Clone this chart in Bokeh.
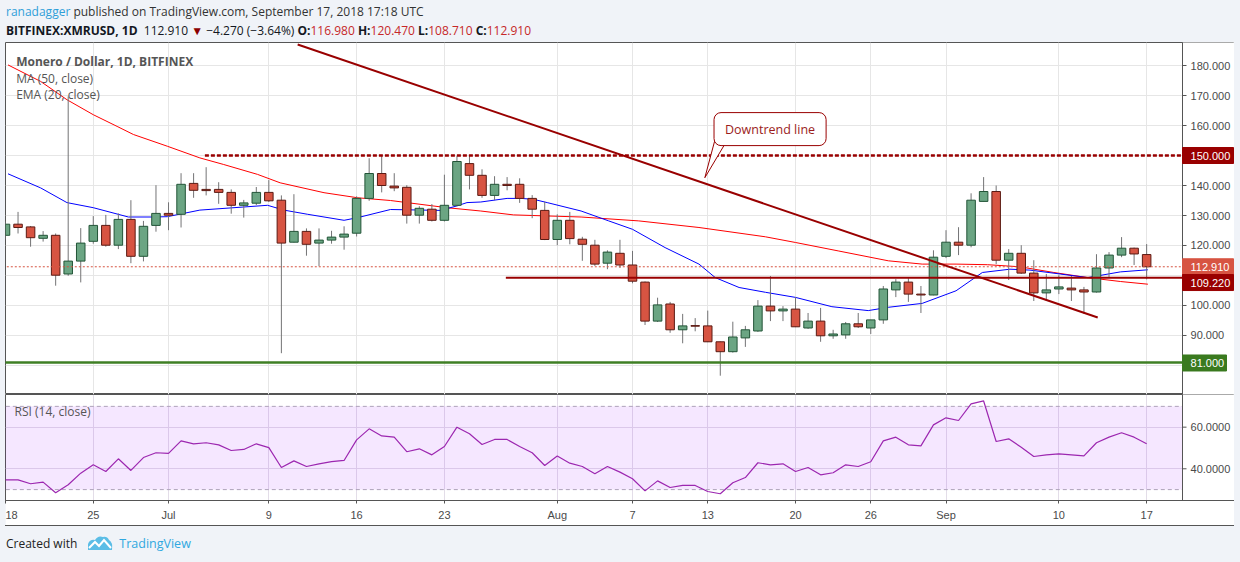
from bokeh.plotting import figure
from bokeh.models import (Range1d, FixedTicker, Label, Div, BoxAnnotation, ColumnDataSource)
from bokeh.core.properties import value
from bokeh.layouts import column
from bokeh.embed import file_html
from bokeh.resources import INLINE

# ---------------- data ----------------
# day index 0 = 18 Jun 2018 ... 91 = 17 Sep 2018
tick_idx = [0, 7, 13, 21, 28, 35, 44, 50, 56, 63, 69, 75, 84, 91]
tick_labels = ["18", "25", "Jul", "9", "16", "23", "Aug", "7", "13", "20", "26", "Sep", "10", "17"]

opens = [123.4, 127.1, 126.2, 122.4, 123.4, 110.5, 114.8, 121.4, 126.7, 120.1,
         128.7, 116.4, 126.7, 130.7, 130.4, 140.7, 138.7, 138.7, 137.7, 133.4,
         134.1, 137.7, 135.1, 121.1, 124.7, 120.8, 121.8, 122.8, 124.1, 135.7,
         144.0, 139.8, 139.4, 130.1, 132.1, 128.4, 133.4, 147.3, 143.4, 136.7,
         140.4, 140.4, 135.7, 131.7, 122.0, 128.4, 122.1, 120.1, 114.1, 117.4,
         113.5, 107.8, 94.8, 100.5, 91.9, 93.3, 93.2, 87.9, 84.6, 89.2,
         91.5, 99.8, 98.2, 98.8, 92.5, 94.8, 89.9, 90.2, 93.9, 92.5,
         95.2, 105.2, 107.8, 103.8, 103.5, 116.4, 121.1, 120.1, 134.7, 138.0,
         115.1, 117.4, 110.8, 104.2, 105.5, 105.8, 105.2, 104.5, 112.5, 116.8,
         119.1, 116.98]
highs = [128.0, 131.2, 126.5, 124.8, 124.0, 169.7, 125.8, 129.8, 130.2, 130.7,
         135.1, 128.2, 140.1, 134.4, 144.1, 144.1, 146.1, 141.1, 138.7, 135.2,
         139.5, 141.8, 136.7, 137.1, 125.7, 125.7, 124.9, 126.4, 136.4, 149.1,
         150.0, 144.1, 140.1, 133.1, 133.8, 143.6, 149.8, 150.1, 145.4, 143.1,
         142.8, 142.4, 136.8, 134.6, 130.4, 131.2, 122.9, 121.9, 118.4, 121.9,
         118.2, 108.0, 102.6, 101.2, 97.2, 95.8, 98.3, 88.0, 94.6, 93.2,
         101.8, 109.8, 99.8, 102.8, 97.5, 99.2, 91.9, 94.5, 97.5, 95.2,
         106.5, 108.8, 109.1, 106.5, 118.4, 125.1, 126.1, 137.4, 142.8, 140.0,
         118.8, 120.1, 115.1, 110.5, 110.1, 109.8, 106.2, 117.1, 117.8, 122.8,
         119.3, 120.47]
lows = [122.0, 124.0, 119.6, 121.3, 106.6, 109.9, 107.7, 120.6, 119.6, 118.8,
        114.1, 114.7, 124.6, 125.1, 126.0, 135.9, 136.7, 133.9, 130.6, 129.3,
        133.5, 134.5, 84.1, 121.0, 116.6, 113.1, 120.6, 118.6, 123.0, 134.9,
        137.7, 138.1, 127.3, 127.3, 128.0, 128.0, 133.1, 138.7, 135.9, 135.1,
        138.4, 134.2, 129.1, 121.8, 120.1, 120.4, 114.9, 113.2, 112.1, 112.5,
        107.4, 93.5, 94.5, 90.9, 87.4, 91.4, 87.8, 76.6, 84.3, 86.2,
        91.2, 94.8, 94.8, 92.8, 92.2, 87.9, 88.9, 88.9, 92.5, 90.5,
        93.9, 102.8, 101.2, 97.5, 103.4, 115.8, 116.8, 119.4, 134.7, 113.8,
        108.5, 110.5, 101.5, 101.5, 103.8, 101.5, 97.2, 104.3, 109.5, 116.1,
        113.5, 108.71]
closes = [127.1, 126.0, 122.6, 123.4, 110.1, 114.8, 120.8, 126.7, 120.1, 128.7,
          116.4, 126.4, 130.7, 130.1, 140.4, 138.4, 138.3, 137.7, 133.4, 134.2,
          137.7, 134.9, 120.8, 124.7, 120.4, 121.8, 122.8, 123.8, 135.7, 144.0,
          140.0, 139.2, 130.1, 132.4, 128.4, 133.4, 148.0, 143.4, 136.7, 140.4,
          140.0, 135.7, 132.1, 122.0, 128.4, 122.3, 120.4, 113.8, 117.8, 113.5,
          108.1, 94.8, 100.2, 91.9, 93.2, 93.1, 87.9, 84.6, 89.5, 91.9,
          99.8, 98.2, 98.8, 92.9, 94.8, 89.9, 90.5, 93.9, 92.9, 95.2,
          105.5, 107.8, 103.8, 103.5, 116.1, 121.1, 120.1, 135.1, 138.0, 115.1,
          117.4, 110.8, 104.2, 105.2, 106.2, 105.2, 104.5, 112.5, 116.8, 119.1,
          117.18, 112.91]

ma50_idx = [0.2, 2.8, 4.9, 7.0, 8.9, 10.2, 12.9, 15.5, 17.4, 20.1, 21.9, 25.4, 28.1,
            30.7, 35.2, 37.9, 40.5, 45.9, 50.5, 55.3, 60.6, 63.0, 66.4, 70.4, 73.1,
            75.8, 78.3, 80.9, 83.6, 86.3, 88.9, 91.1]
ma50_val = [180.2, 174.7, 168.6, 163.6, 159.7, 157.0, 153.1, 149.2, 147.0, 143.7, 140.9,
            137.6, 135.9, 135.0, 132.6, 131.5, 130.2, 129.5, 128.2, 126.0, 122.9, 121.0,
            118.2, 114.9, 113.8, 113.8, 113.6, 112.9, 111.0, 109.3, 108.0, 107.1]

ema20_idx = [0.2, 2.8, 4.9, 7.0, 9.8, 11.6, 12.9, 15.5, 20.9, 22.2, 24.1, 27.0, 28.1,
             30.7, 34.7, 36.0, 36.8, 37.9, 40.0, 41.1, 42.1, 43.2, 45.9, 48.1, 50.0,
             52.6, 55.3, 56.6, 58.5, 60.6, 63.0, 65.9, 68.8, 70.4, 73.1, 75.8, 77.9,
             80.1, 81.7, 84.1, 86.3, 88.9, 91.1]
ema20_val = [143.9, 139.2, 134.3, 132.6, 129.5, 129.5, 129.6, 131.8, 133.4, 131.8, 130.4,
             128.4, 129.3, 132.0, 131.7, 133.2, 134.3, 134.5, 135.7, 135.7, 135.4, 134.3,
             131.5, 128.2, 125.4, 119.3, 113.8, 109.3, 106.0, 104.4, 102.7, 99.6, 98.3,
             99.4, 100.7, 104.9, 111.0, 112.1, 111.8, 110.5, 109.3, 111.2, 111.9]

rsi_vals = [34.7, 34.7, 32.8, 33.6, 28.5, 32.3, 37.9, 41.9, 38.7, 44.8,
            39.2, 45.4, 47.7, 47.4, 53.4, 52.0, 52.5, 51.5, 48.8, 49.3,
            52.0, 50.2, 40.6, 43.8, 41.1, 42.4, 43.4, 44.0, 53.9, 59.2,
            55.8, 55.2, 48.2, 49.6, 46.7, 50.7, 60.0, 56.8, 51.7, 54.1,
            54.1, 50.7, 47.7, 41.6, 46.1, 42.7, 41.1, 37.6, 41.1, 38.4,
            35.2, 29.4, 34.2, 31.0, 32.0, 32.0, 29.1, 28.0, 33.3, 35.8,
            42.9, 41.9, 42.4, 38.7, 40.6, 37.1, 38.1, 41.9, 41.1, 43.4,
            53.4, 55.2, 51.5, 51.0, 61.1, 64.5, 63.2, 71.2, 72.6, 53.1,
            54.4, 50.4, 45.9, 46.7, 47.2, 46.7, 46.2, 52.5, 55.2, 57.3,
            55.2, 52.0]

price_ticks = [90, 100, 110, 120, 130, 140, 150, 160, 170, 180]
price_grid = [80] + price_ticks
rsi_ticks = [40, 60]
rsi_band = (30, 70)

resistance = 150.0
support_1 = 109.22
support_2 = 81.0
last_close = closes[-1]
trend_x = [23.3, 87.1]
trend_y = [187.0, 96.0]

# ---------------- styling / geometry ----------------
UP_FILL, UP_LINE = "#6ba583", "#225437"
DN_FILL, DN_LINE = "#d75442", "#5b1a13"
WICK = "#737375"
DARK_RED = "#990000"
GREEN = "#3f7f24"
AX_FONT = "Liberation Sans"
TXT_FONT = "Open Sans"
GRID = "#e6e6e6"
BG = "#f0f3f8"
AX_COL = "#555555"
LBL_COL = "#4a4a4a"

LEFT = 5                        # page x of the box's left edge
FRAME_W = 1229                  # whole box, price scale column included
X_RANGE = (0.0, 98.006)         # day index at the left / right edge of the box
AXIS_X = 93.86                  # day index where the price scale column starts
P_RANGE = (70.33, 187.67)
R_RANGE = (24.76, 75.70)
PX = FRAME_W / (X_RANGE[1] - X_RANGE[0])      # pixels per day
MAIN_H, RSI_H = 352, 106
PY = MAIN_H / (P_RANGE[1] - P_RANGE[0])       # pixels per price unit
RY = RSI_H / (R_RANGE[1] - R_RANGE[0])


def dx(px):
    return px / PX


def make_scale(fig, ticks, fmt, tags, ypx):
    """Price-scale column on the right edge of the box."""
    fig.quad(left=AXIS_X, right=X_RANGE[1] + 5, bottom=-1000, top=1000,
             fill_color="white", line_color=None)
    fig.line([AXIS_X, AXIS_X], [-1000, 1000], line_color=AX_COL, line_width=1)
    fig.segment(x0=[AXIS_X] * len(ticks), y0=ticks, x1=[AXIS_X + dx(4)] * len(ticks), y1=ticks,
                line_color=AX_COL, line_width=1)
    fig.text(x=[AXIS_X + dx(8)] * len(ticks), y=ticks, text=[fmt.format(t) for t in ticks],
             text_baseline="middle", text_align="left", text_font=value(AX_FONT),
             text_font_size=value("11px"), text_color=LBL_COL)
    if tags:
        ys = [t[0] + t[1] / ypx for t in tags]
        src = ColumnDataSource(dict(
            y=ys, bottom=[y - 8 / ypx for y in ys], top=[y + 8 / ypx for y in ys],
            right=[AXIS_X + dx(t[4]) for t in tags], text=[t[2] for t in tags],
            color=[t[3] for t in tags]))
        fig.quad(left=AXIS_X, right="right", bottom="bottom", top="top", source=src,
                 fill_color="color", line_color="color")
        fig.text(x=AXIS_X + dx(8), y="y", text="text", source=src, text_baseline="middle",
                 text_align="left", text_font=value(AX_FONT), text_font_size=value("11px"),
                 text_color="white")


# ---------------- main price pane ----------------
p = figure(frame_width=FRAME_W, frame_height=MAIN_H,
           x_range=Range1d(*X_RANGE), y_range=Range1d(*P_RANGE),
           output_backend="svg", toolbar_location=None,
           x_axis_location=None, y_axis_location=None,
           min_border_left=0, min_border_right=0, min_border_top=0, min_border_bottom=0,
           background_fill_color="white", border_fill_color="white", margin=(0, 0, 0, LEFT))
p.outline_line_color = AX_COL
p.xgrid.ticker = FixedTicker(ticks=tick_idx)
p.ygrid.ticker = FixedTicker(ticks=price_grid)
for g in (p.xgrid, p.ygrid):
    g.grid_line_color = GRID

# indicator lines
p.line(ma50_idx, ma50_val, line_color="#ff0000", line_width=1)
p.line(ema20_idx, ema20_val, line_color="#0000ff", line_width=1)

# candles
n = len(opens)
xs = list(range(n))
up = [c >= o for o, c in zip(opens, closes)]
src = ColumnDataSource(dict(
    x=xs, h=highs, l=lows,
    top=[max(o, c) for o, c in zip(opens, closes)],
    bot=[min(o, c) for o, c in zip(opens, closes)],
    fill=[UP_FILL if u else DN_FILL for u in up],
    line=[UP_LINE if u else DN_LINE for u in up],
))
p.segment(x0="x", y0="l", x1="x", y1="h", source=src, line_color=WICK, line_width=1)
p.vbar(x="x", width=0.68, top="top", bottom="bot", source=src,
       fill_color="fill", line_color="line", line_width=1)

# drawings
p.line([-5, AXIS_X], [last_close, last_close], line_color=DN_FILL, line_dash="2 2", line_width=1)
p.line([15.9, AXIS_X], [resistance, resistance], line_color=DARK_RED, line_width=2.5, line_dash="4 2")
p.line([39.9, AXIS_X], [support_1, support_1], line_color=DARK_RED, line_width=2)
p.line([-5, AXIS_X], [support_2, support_2], line_color=GREEN, line_width=2.5)
p.line(trend_x, trend_y, line_color=DARK_RED, line_width=2)

# price scale with tags: (value, pixel shift, text, colour, width px)
make_scale(p, price_ticks, "{:.3f}", [
    (resistance, 0, f"{resistance:.3f}", DARK_RED, 51),
    (last_close, 0, f"{last_close:.3f}", DN_FILL, 51),
    (support_1, -4.7, f"{support_1:.3f}", DARK_RED, 51),
    (support_2, -0.5, f"{support_2:.3f}", "#3a7a1f", 44),
], PY)

# callout
p.patch([56.6, 57.35, 55.77], [155.6, 153.7, 142.6], fill_color="white",
        line_color=DARK_RED, line_width=1)
p.add_layout(Label(x=60.97, y=158.8, text="Downtrend line", text_align="center",
                   text_baseline="middle", text_font=TXT_FONT, text_font_size="12.5px",
                   text_color="#9b1c1c", background_fill_color="white",
                   border_line_color=DARK_RED, border_line_width=1, border_radius=7,
                   padding=dict(left=11, right=11, top=8, bottom=8)))

# legend texts
p.add_layout(Label(x=0.85, y=181.4, text="Monero / Dollar, 1D, BITFINEX", text_baseline="middle",
                   text_font=TXT_FONT, text_font_size="12px", text_font_style="bold",
                   text_color="#555555"))
p.add_layout(Label(x=0.85, y=175.8, text="MA (50, close)", text_baseline="middle",
                   text_font=TXT_FONT, text_font_size="12px", text_color="#555555"))
p.add_layout(Label(x=0.85, y=170.2, text="EMA (20, close)", text_baseline="middle",
                   text_font=TXT_FONT, text_font_size="12px", text_color="#555555"))

# ---------------- RSI pane ----------------
r = figure(frame_width=FRAME_W, frame_height=RSI_H,
           x_range=p.x_range, y_range=Range1d(*R_RANGE),
           output_backend="svg", toolbar_location=None,
           y_axis_location=None,
           min_border_left=0, min_border_right=0, min_border_top=0, min_border_bottom=25,
           background_fill_color="white", border_fill_color="white", margin=(0, 0, 0, LEFT))
r.outline_line_color = AX_COL
r.xgrid.ticker = FixedTicker(ticks=tick_idx)
r.ygrid.ticker = FixedTicker(ticks=rsi_ticks)
for g in (r.xgrid, r.ygrid):
    g.grid_line_color = "#e3dde8"
r.add_layout(BoxAnnotation(left=-5, right=AXIS_X, bottom=rsi_band[0], top=rsi_band[1],
                           fill_color="#9915ff", fill_alpha=0.1, line_color=None, level="underlay"))
for lv in rsi_band:
    r.line([-5, AXIS_X], [lv, lv], line_color="#aea3ba", line_dash="4 3", line_width=1)
r.line(xs, rsi_vals, line_color="#9c27b0", line_width=1.2)

make_scale(r, rsi_ticks, "{:.4f}", [], RY)

r.xaxis.ticker = FixedTicker(ticks=tick_idx)
r.xaxis.major_label_overrides = {i: lab for i, lab in zip(tick_idx, tick_labels)}
r.xaxis.axis_line_color = AX_COL
r.xaxis.major_tick_line_color = AX_COL
r.xaxis.major_tick_in = 0
r.xaxis.major_tick_out = 3
r.xaxis.minor_tick_line_color = None
r.xaxis.major_label_standoff = 5
r.xaxis.major_label_text_font = AX_FONT
r.xaxis.major_label_text_font_size = "11px"
r.xaxis.major_label_text_color = LBL_COL

r.add_layout(Label(x=0.72, y=67.5, text="RSI (14, close)", text_baseline="middle",
                   text_font=TXT_FONT, text_font_size="12px", text_color="#555555"))

# ---------------- header / footer ----------------
header_html = (
    '<div style="padding:2px 0 0 6px; line-height:19px">'
    '<div><span style="color:#2f9fd8">ranadagger</span> published on TradingView.com, '
    'September 17, 2018 17:18 UTC</div>'
    '<div style="color:#131722"><b>BITFINEX:XMRUSD, 1D</b>&nbsp; 112.910 '
    '<span style="color:#8b0000">&#9660;</span> &minus;4.270 (&minus;3.64%) '
    '<b>O:</b><span style="color:#c62828">116.980</span> '
    '<b>H:</b><span style="color:#c62828">120.470</span> '
    '<b>L:</b><span style="color:#c62828">108.710</span> '
    '<b>C:</b><span style="color:#c62828">112.910</span></div></div>'
)
header = Div(text=header_html, width=1240, height=42, margin=0,
             styles={"font-family": "'Open Sans'", "font-size": "12px",
                     "color": "#333333", "background-color": BG})

logo = ('<svg width="26" height="16" viewBox="0 0 26 16" style="vertical-align:-3px; margin:0 6px 0 10px">'
        '<path d="M1 15 L1 9 Q3 4 8 5 Q11 0 16 2 Q20 1 22 5 Q26 7 25 15 Z" fill="#5bbde6"/>'
        '<path d="M2 13 L8 7 L12 11 L17 5 L24 13" fill="none" stroke="white" stroke-width="2"/>'
        '</svg>')
footer_html = ('<div style="margin-left:5px; width:1229px; border-top:1px solid #555555; '
               'padding:9px 0 0 1px; line-height:18px">Created with' + logo +
               '<span style="color:#2fa8e0; font-size:12.5px">TradingView</span></div>')
footer = Div(text=footer_html, width=1240, height=37, margin=0,
             styles={"font-family": "'Open Sans'", "font-size": "12px",
                     "color": "#222222", "background-color": BG})

layout = column(header, p, r, footer, spacing=0, styles={"background-color": BG})
open("out.html", "w").write(file_html(layout, INLINE))
